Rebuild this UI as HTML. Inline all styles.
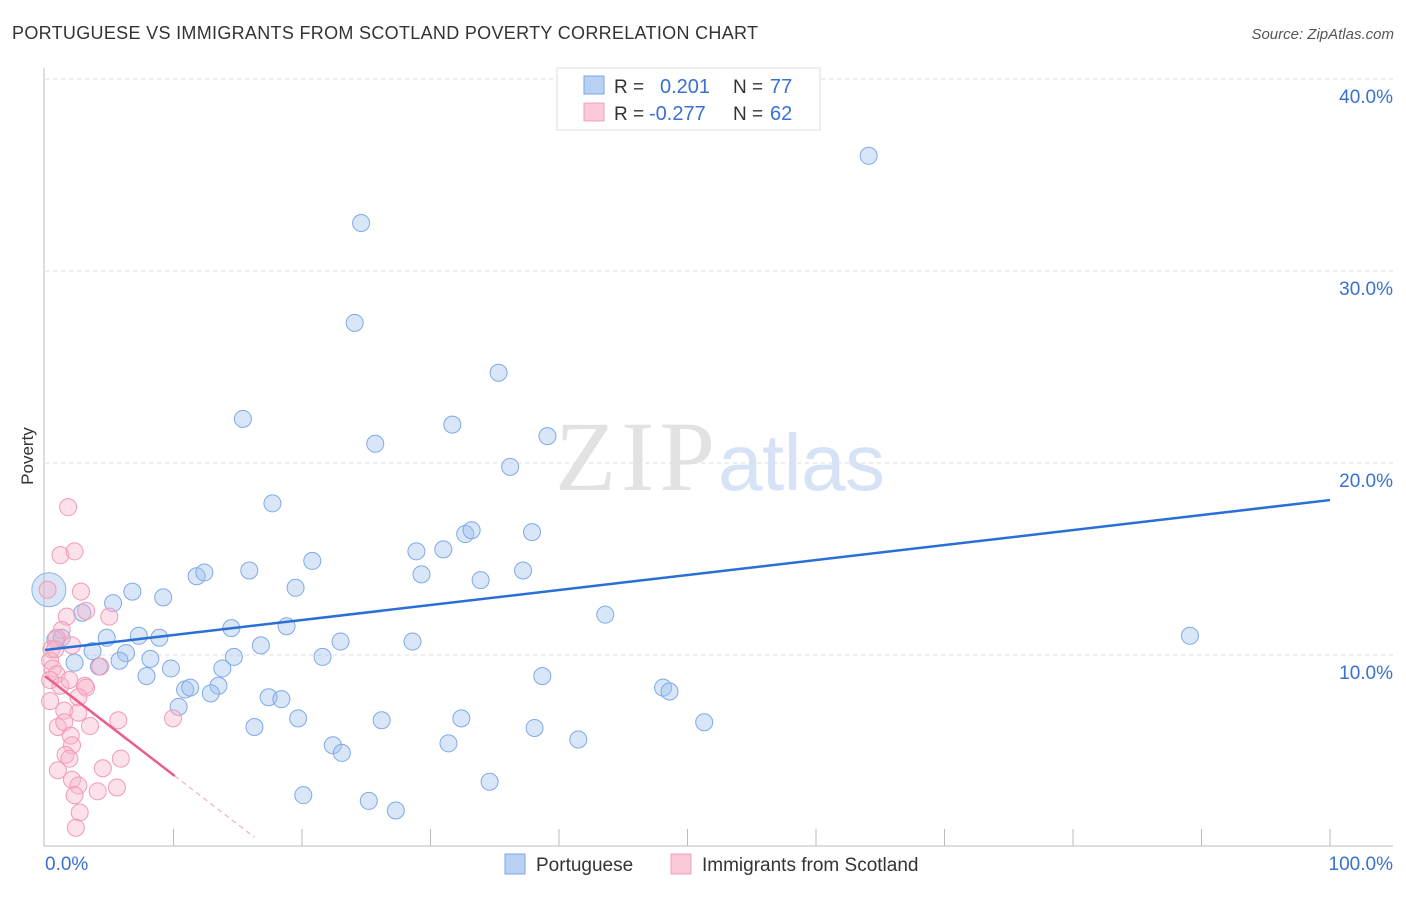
<!DOCTYPE html>
<html><head><meta charset="utf-8"><style>
body{margin:0;background:#fff;font-family:"Liberation Sans",sans-serif}
</style></head><body>
<svg width="1406" height="892" xmlns="http://www.w3.org/2000/svg">
<text x="12" y="39" font-size="18" fill="#333" textLength="746">PORTUGUESE VS IMMIGRANTS FROM SCOTLAND POVERTY CORRELATION CHART</text>
<text x="1394" y="39" font-size="15" fill="#555" font-style="italic" text-anchor="end">Source: ZipAtlas.com</text>
<text x="33" y="456" font-size="17" fill="#333" transform="rotate(-90 33 456)" text-anchor="middle">Poverty</text>
<text x="555" y="490" font-size="100" font-family="Liberation Serif,serif" fill="#e2e2e2" textLength="160">ZIP</text>
<text x="718" y="490" font-size="80" fill="#d6e2f5" textLength="167">atlas</text>
<g id="grid"></g>
<g id="marks"></g>
<g>
<rect x="557" y="68" width="263" height="62" fill="#fff" stroke="#ddd"/>
<rect x="584" y="76" width="20" height="18" fill="#b8d1f3" stroke="#7aa6e4"/>
<rect x="584" y="103" width="20" height="18" fill="#fbc9d8" stroke="#f2a0b9"/>
<text x="614" y="93" font-size="19" fill="#333">R =</text><text x="660" y="93" font-size="20" fill="#3a70d0">0.201</text>
<text x="733" y="93" font-size="19" fill="#333">N =</text><text x="770" y="93" font-size="20" fill="#3a70d0">77</text>
<text x="614" y="120" font-size="19" fill="#333">R =</text><text x="649" y="120" font-size="20" fill="#3a70d0">-0.277</text>
<text x="733" y="120" font-size="19" fill="#333">N =</text><text x="770" y="120" font-size="20" fill="#3a70d0">62</text>
</g>
<g>
<rect x="505" y="854" width="20" height="20" fill="#b8d1f3" stroke="#7aa6e4"/>
<text x="536" y="871" font-size="19" fill="#333">Portuguese</text>
<rect x="671" y="854" width="20" height="20" fill="#fbc9d8" stroke="#f2a0b9"/>
<text x="702" y="871" font-size="19" fill="#333">Immigrants from Scotland</text>
</g>
</svg>
<script>
const yTicks=[10,20,30,40];
const yTickLabels=["10.0%","20.0%","30.0%","40.0%"];
const xTicks=[10,20,30,40,50,60,70,80,90,100];
const blueX=[64.1,24.6,24.1,35.3,15.4,25.7,31.7,39.1,36.2,17.7,32.7,33.2,37.9,28.9,31.0,20.8,15.9,11.8,12.4,29.3,37.2,33.9,19.5,6.8,9.2,5.3,43.6,2.9,14.5,18.8,89.1,7.3,4.8,8.9,23.0,28.6,16.8,0.8,1.3,3.7,6.3,2.3,5.8,8.2,14.7,21.6,4.2,9.8,13.8,7.9,38.7,13.5,10.9,11.3,12.9,17.4,18.4,48.1,48.6,10.4,19.7,26.2,32.4,16.3,38.1,51.3,22.4,31.4,41.5,23.1,34.6,20.1,25.2,27.3];
const blueY=[36.0,32.5,27.3,24.7,22.3,21.0,22.0,21.4,19.8,17.9,16.3,16.5,16.4,15.4,15.5,14.9,14.4,14.1,14.3,14.2,14.4,13.9,13.5,13.3,13.0,12.7,12.1,12.2,11.4,11.5,11.0,11.0,10.9,10.9,10.7,10.7,10.5,10.8,10.9,10.2,10.1,9.6,9.7,9.8,9.9,9.9,9.4,9.3,9.3,8.9,8.9,8.4,8.2,8.3,8.0,7.8,7.7,8.3,8.1,7.3,6.7,6.6,6.7,6.25,6.2,6.5,5.3,5.4,5.6,4.9,3.4,2.7,2.4,1.9];
const pinkX=[1.8,1.2,2.3,2.8,3.2,1.7,5.0,0.2,1.3,0.9,2.1,0.5,0.4,0.6,0.9,0.4,1.2,1.9,3.1,3.2,4.3,2.6,1.5,2.6,1.0,1.5,2.0,2.1,3.5,5.7,9.96,1.6,1.9,1.0,4.5,5.9,2.1,2.6,2.3,4.1,5.6,2.7,2.4,0.4,0.8];
const pinkY=[17.7,15.2,15.4,13.3,12.3,12.0,12.0,13.4,11.3,10.9,10.5,10.3,9.7,9.3,9.0,8.7,8.4,8.7,8.4,8.3,9.4,7.8,7.1,7.0,6.25,6.5,5.8,5.3,6.3,6.6,6.7,4.8,4.6,4.0,4.1,4.6,3.5,3.2,2.7,2.9,3.1,1.8,1.0,7.6,10.3];
const blueTrend=[10.26,18.07];
const pinkTrend=[8.9,-0.515];
const X=v=>45+v*12.85, Y=v=>847-v*19.2;
const NS="http://www.w3.org/2000/svg";
const grid=document.getElementById('grid'), marks=document.getElementById('marks');
function mk(tag,attrs,parent){const e=document.createElementNS(NS,tag);for(const k in attrs)e.setAttribute(k,attrs[k]);parent.appendChild(e);return e;}
mk('line',{x1:44,y1:68,x2:44,y2:846,stroke:'#bbb'},grid);
mk('line',{x1:44,y1:846,x2:1393,y2:846,stroke:'#bbb'},grid);
yTicks.forEach((t,i)=>{
 const l=mk('line',{x1:45,y1:Y(t),x2:1393,y2:Y(t),stroke:'#ddd','stroke-dasharray':'4,4'},grid);
 
 
 const tx=mk('text',{x:1393,y:Y(t)+24,'font-size':19,fill:'#3a70d0','text-anchor':'end'},grid);tx.textContent=yTickLabels[i];
 
 
});
xTicks.forEach(t=>{
 const l=mk('line',{x1:X(t),y1:829,x2:X(t),y2:846,stroke:'#bbb'},grid);
 
 
});
let a=mk('text',{x:45,y:870,'font-size':19,fill:'#3a70d0'},grid);a.textContent='0.0%';


a=mk('text',{x:1393,y:870,'font-size':19,fill:'#3a70d0','text-anchor':'end'},grid);a.textContent='100.0%';


const big=mk('circle',{cx:X(0.3),cy:Y(13.4),r:17,fill:'rgba(160,192,238,0.4)',stroke:'#8ab2ea','stroke-width':1},marks);


blueX.forEach((x,i)=>{
 const c=mk('circle',{cx:X(x),cy:Y(blueY[i]),r:8.5,fill:'rgba(160,192,238,0.4)',stroke:'#7eaae6','stroke-width':1},marks);
 
 
});
pinkX.forEach((x,i)=>{
 const c=mk('circle',{cx:X(x),cy:Y(pinkY[i]),r:8.5,fill:'rgba(247,180,202,0.4)',stroke:'#f29ab5','stroke-width':1},marks);
 
 
});
let t=mk('line',{x1:X(0),y1:Y(blueTrend[0]),x2:X(100),y2:Y(blueTrend[1]),stroke:'#2a6fd6','stroke-width':2.5},marks);


const py=x=>pinkTrend[0]+pinkTrend[1]*x;
t=mk('line',{x1:X(0),y1:Y(py(0)),x2:X(10.1),y2:Y(py(10.1)),stroke:'#e8608a','stroke-width':2.5},marks);


t=mk('line',{x1:X(10.1),y1:Y(py(10.1)),x2:X(16.3),y2:Y(py(16.3)),stroke:'#f0a0b8','stroke-width':1,'stroke-dasharray':'5,4'},marks);


</script>
</body></html>
